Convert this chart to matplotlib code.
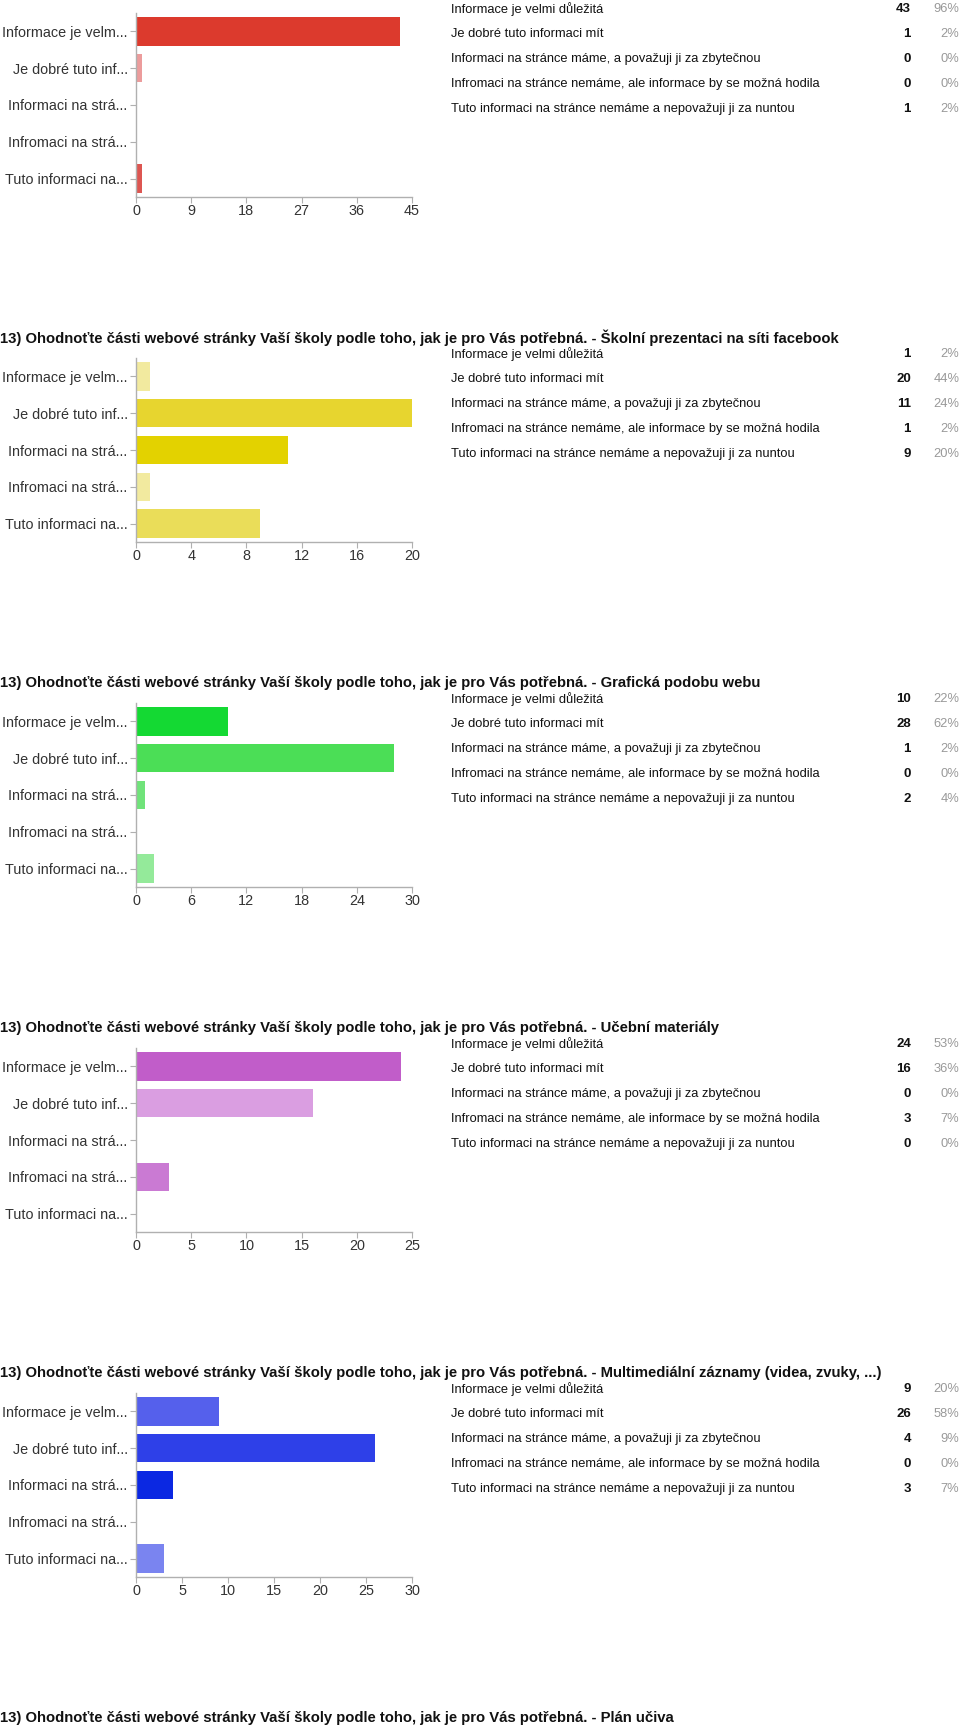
import numpy as np
import matplotlib
matplotlib.use("Agg")
import matplotlib.pyplot as plt

plt.rcParams['font.family'] = ['Liberation Sans', 'DejaVu Sans']

W, H = 960, 1728

prefix = "13) Ohodnoťte části webové stránky Vaší školy podle toho, jak je pro Vás potřebná. - "
titles = [None,
          prefix + "Školní prezentaci na síti facebook",
          prefix + "Grafická podobu webu",
          prefix + "Učební materiály",
          prefix + "Multimediální záznamy (videa, zvuky, ...)",
          prefix + "Plán učiva"]

answers = ["Informace je velmi důležitá",
           "Je dobré tuto informaci mít",
           "Informaci na stránce máme, a považuji ji za zbytečnou",
           "Infromaci na stránce nemáme, ale informace by se možná hodila",
           "Tuto informaci na stránce nemáme a nepovažuji ji za nuntou"]
short_labels = ["Informace je velm...", "Je dobré tuto inf...", "Informaci na strá...",
                "Infromaci na strá...", "Tuto informaci na..."]

counts = [[43, 1, 0, 0, 1],
          [1, 20, 11, 1, 9],
          [10, 28, 1, 0, 2],
          [24, 16, 0, 3, 0],
          [9, 26, 4, 0, 3]]
percents = [[96, 2, 0, 0, 2],
            [2, 44, 24, 2, 20],
            [22, 62, 2, 0, 4],
            [53, 36, 0, 7, 0],
            [20, 58, 9, 0, 7]]
xmax = [45, 20, 30, 25, 30]
xstep = [9, 4, 6, 5, 5]

colors = [['#DC3A2D', '#EC9C9C', '#E06A66', '#E06A66', '#DD5651'],
          ['#F2EA9F', '#E7D52F', '#E3D200', '#F2EA9F', '#EADD59'],
          ['#14D933', '#4BDE56', '#70E37A', '#70E37A', '#94EA9A'],
          ['#C15DC9', '#DA9EE1', '#CA7AD3', '#CA7AD3', '#CA7AD3'],
          ['#5560EC', '#2E40E8', '#0B28E2', '#7A84F0', '#7A84F0']]

fig = plt.figure(figsize=(W / 100, H / 100), dpi=100)

def fx(x):
    return x / W

def fy(y):
    return 1 - y / H

period = 345
for k in range(5):
    top = 13 + period * k
    bot = 197 + period * k
    ax = fig.add_axes([fx(136), fy(bot), fx(412) - fx(136), (bot - top) / H])
    ypos = np.arange(5)
    ax.barh(ypos, counts[k], height=0.77, color=colors[k][:5], zorder=2)
    ax.set_ylim(4.5, -0.5)
    ax.set_xlim(0, xmax[k])
    ax.set_xticks(np.arange(0, xmax[k] + 1, xstep[k]))
    ax.set_yticks(ypos)
    ax.set_yticklabels(short_labels)
    for s in ['top', 'right']:
        ax.spines[s].set_visible(False)
    for s in ['left', 'bottom']:
        ax.spines[s].set_color('#b0b0b0')
        ax.spines[s].set_linewidth(1)
    ax.tick_params(axis='both', colors='#b0b0b0', length=4, width=0.8,
                   labelcolor='#333333', labelsize=10.4)
    ax.tick_params(axis='y', pad=2)
    ax.tick_params(axis='x', pad=1)

    # table on the right
    row0 = 9 + period * k
    for i in range(5):
        yy = fy(row0 + 25 * i)
        fig.text(fx(451), yy, answers[i], fontsize=9.3, color='#111111', va='center', ha='left')
        fig.text(fx(911), yy, str(counts[k][i]), fontsize=9.5, color='#111111',
                 weight='bold', va='center', ha='right')
        fig.text(fx(959.5), yy, "%d%%" % percents[k][i], fontsize=9.3, color='#999999',
                 va='center', ha='right')

for k, t in enumerate(titles):
    if t is None:
        continue
    fig.text(fx(0), fy(-7 + period * k), t, fontsize=10.75, weight='bold',
             color='#111111', va='center', ha='left')

fig.savefig("out.png", dpi=100)
